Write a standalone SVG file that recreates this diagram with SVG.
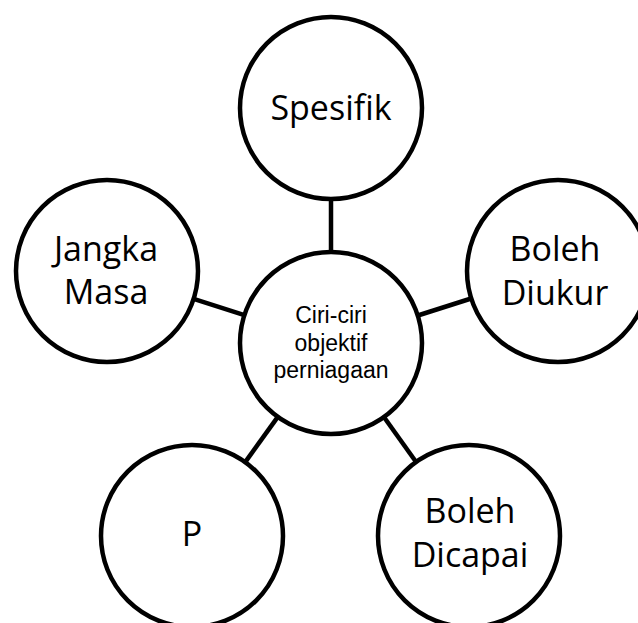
<svg xmlns="http://www.w3.org/2000/svg" width="638" height="623" viewBox="0 0 638 623">
<style>
.node { fill: #ffffff; stroke: #000000; stroke-width: 4.5; }
.conn { stroke: #000000; stroke-width: 4.5; fill: none; }
.lbl { font-family: "Open Sans", "Noto Sans", sans-serif; font-size: 34px; fill: #000000; text-anchor: middle; }
.clbl { font-family: "Liberation Sans", Arial, sans-serif; font-size: 23px; fill: #000000; text-anchor: middle; }
</style>
<rect x="0" y="0" width="638" height="623" fill="#ffffff"/>
<g id="connectors">
<line class="conn" x1="331" y1="199" x2="331" y2="252"/>
<line class="conn" x1="193.6" y1="298.8" x2="244.4" y2="315.2"/>
<line class="conn" x1="417.8" y1="315.5" x2="471.2" y2="298.5"/>
<line class="conn" x1="277.8" y1="416.9" x2="245.2" y2="462.1"/>
<line class="conn" x1="383.9" y1="417" x2="416.1" y2="462"/>
</g>
<g id="node-center">
<circle class="node" cx="331" cy="343" r="91"/>
<text class="clbl" x="331" y="323">Ciri-ciri</text>
<text class="clbl" x="331" y="351">objektif</text>
<text class="clbl" x="331" y="378">perniagaan</text>
</g>
<g id="node-spesifik">
<circle class="node" cx="331" cy="108" r="91"/>
<text class="lbl" x="331" y="120">Spesifik</text>
</g>
<g id="node-jangka-masa">
<circle class="node" cx="107" cy="271" r="91"/>
<text class="lbl" x="106" y="261">Jangka</text>
<text class="lbl" x="106" y="304">Masa</text>
</g>
<g id="node-boleh-diukur">
<circle class="node" cx="558" cy="271" r="91"/>
<text class="lbl" x="555" y="261">Boleh</text>
<text class="lbl" x="555" y="305">Diukur</text>
</g>
<g id="node-p">
<circle class="node" cx="192" cy="536" r="91"/>
<text class="lbl" x="192" y="546">P</text>
</g>
<g id="node-boleh-dicapai">
<circle class="node" cx="469" cy="536" r="91"/>
<text class="lbl" x="470" y="523">Boleh</text>
<text class="lbl" x="470" y="567">Dicapai</text>
</g>
</svg>
